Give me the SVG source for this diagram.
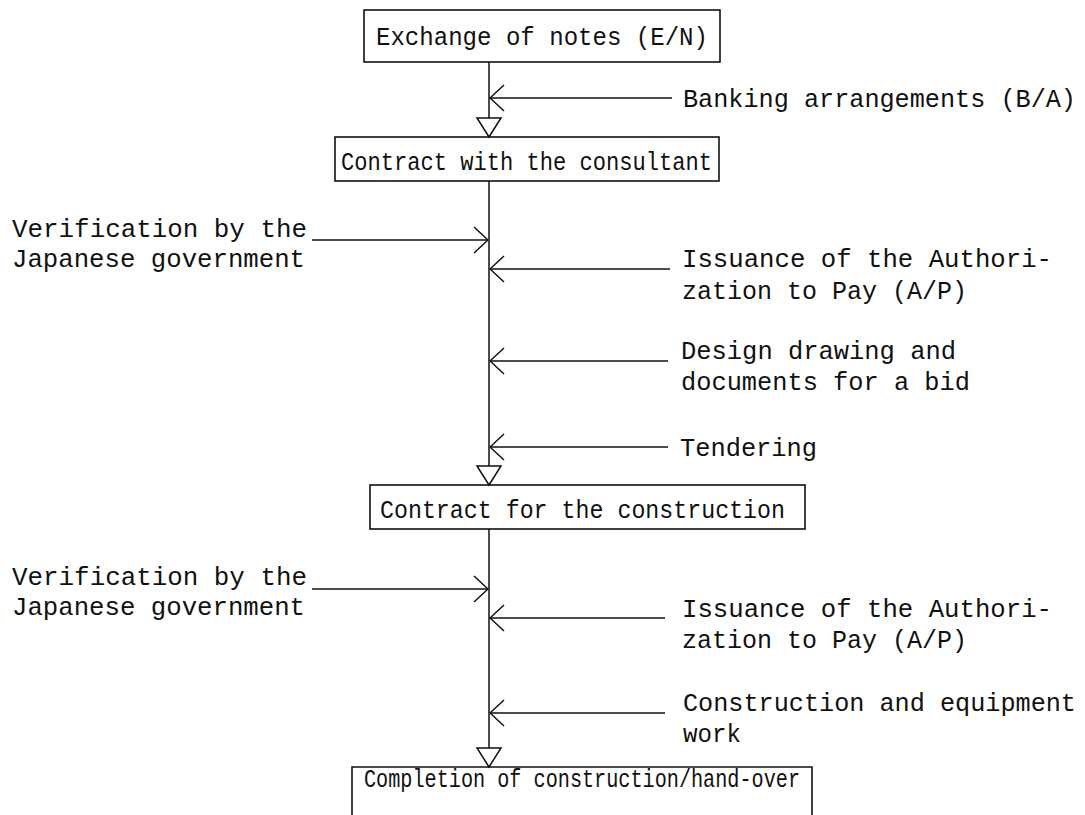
<svg xmlns="http://www.w3.org/2000/svg" width="1085" height="815" viewBox="0 0 1085 815">
<style>
  .bg{fill:#fff}
  .box{fill:none;stroke:#111;stroke-width:1.6}
  .ln{fill:none;stroke:#111;stroke-width:1.5}
  .tri{fill:#fff;stroke:#111;stroke-width:1.5;stroke-linejoin:miter}
  .t{font-family:"Liberation Mono","DejaVu Sans Mono",monospace;font-size:25px;fill:#111}
</style>
<defs>
  <marker id="chev" viewBox="0 0 16 28" refX="15" refY="14" markerWidth="16" markerHeight="28" markerUnits="userSpaceOnUse" orient="auto">
    <path d="M1,1 L15,14 L1,27" fill="none" stroke="#111" stroke-width="1.5"/>
  </marker>
</defs>
<rect class="bg" x="0" y="0" width="1085" height="815"/>

<g id="connectors">
  <line class="ln" x1="489" y1="62" x2="489" y2="137"/>
  <line class="ln" x1="489" y1="181" x2="489" y2="485"/>
  <line class="ln" x1="489" y1="529" x2="489" y2="767"/>
  <polygon class="tri" points="477,118 501,118 489,137"/>
  <polygon class="tri" points="477,466 501,466 489,485"/>
  <polygon class="tri" points="477,748 501,748 489,767"/>
  <line class="ln" x1="672" y1="98" x2="490" y2="98" marker-end="url(#chev)"/>
  <line class="ln" x1="312" y1="240" x2="488" y2="240" marker-end="url(#chev)"/>
  <line class="ln" x1="670" y1="269" x2="490" y2="269" marker-end="url(#chev)"/>
  <line class="ln" x1="668" y1="361" x2="490" y2="361" marker-end="url(#chev)"/>
  <line class="ln" x1="668" y1="447" x2="490" y2="447" marker-end="url(#chev)"/>
  <line class="ln" x1="312" y1="589" x2="488" y2="589" marker-end="url(#chev)"/>
  <line class="ln" x1="665" y1="618" x2="490" y2="618" marker-end="url(#chev)"/>
  <line class="ln" x1="665" y1="713" x2="490" y2="713" marker-end="url(#chev)"/>
</g>

<g id="node-en">
  <rect class="box" x="364" y="10" width="356" height="52"/>
  <text class="t" x="376" y="45" textLength="332" lengthAdjust="spacingAndGlyphs">Exchange of notes (E/N)</text>
</g>
<g id="node-consultant">
  <rect class="box" x="335" y="137" width="384" height="44"/>
  <text class="t" x="341" y="170" textLength="371" lengthAdjust="spacingAndGlyphs">Contract with the consultant</text>
</g>
<g id="node-construction">
  <rect class="box" x="370" y="485" width="435" height="44"/>
  <text class="t" x="380" y="518" textLength="405" lengthAdjust="spacingAndGlyphs">Contract for the construction</text>
</g>
<g id="node-completion">
  <path class="box" d="M352,815 L352,767 L812,767 L812,815"/>
  <text class="t" x="364" y="787" textLength="436" lengthAdjust="spacingAndGlyphs">Completion of construction/hand-over</text>
</g>

<g id="label-ba">
  <text class="t" x="683" y="107" textLength="393" lengthAdjust="spacingAndGlyphs">Banking arrangements (B/A)</text>
</g>
<g id="label-verif1">
  <text class="t" x="12" y="237" textLength="295" lengthAdjust="spacingAndGlyphs">Verification by the</text>
  <text class="t" x="12" y="267" textLength="293" lengthAdjust="spacingAndGlyphs">Japanese government</text>
</g>
<g id="label-ap1">
  <text class="t" x="682" y="267" textLength="370" lengthAdjust="spacingAndGlyphs">Issuance of the Authori-</text>
  <text class="t" x="682" y="299" textLength="285" lengthAdjust="spacingAndGlyphs">zation to Pay (A/P)</text>
</g>
<g id="label-design">
  <text class="t" x="681" y="359" textLength="275" lengthAdjust="spacingAndGlyphs">Design drawing and</text>
  <text class="t" x="681" y="390" textLength="289" lengthAdjust="spacingAndGlyphs">documents for a bid</text>
</g>
<g id="label-tender">
  <text class="t" x="680" y="456" textLength="137" lengthAdjust="spacingAndGlyphs">Tendering</text>
</g>
<g id="label-verif2">
  <text class="t" x="12" y="585" textLength="295" lengthAdjust="spacingAndGlyphs">Verification by the</text>
  <text class="t" x="12" y="615" textLength="293" lengthAdjust="spacingAndGlyphs">Japanese government</text>
</g>
<g id="label-ap2">
  <text class="t" x="682" y="617" textLength="370" lengthAdjust="spacingAndGlyphs">Issuance of the Authori-</text>
  <text class="t" x="682" y="648" textLength="285" lengthAdjust="spacingAndGlyphs">zation to Pay (A/P)</text>
</g>
<g id="label-work">
  <text class="t" x="683" y="711" textLength="393" lengthAdjust="spacingAndGlyphs">Construction and equipment</text>
  <text class="t" x="683" y="742" textLength="58" lengthAdjust="spacingAndGlyphs">work</text>
</g>
</svg>
